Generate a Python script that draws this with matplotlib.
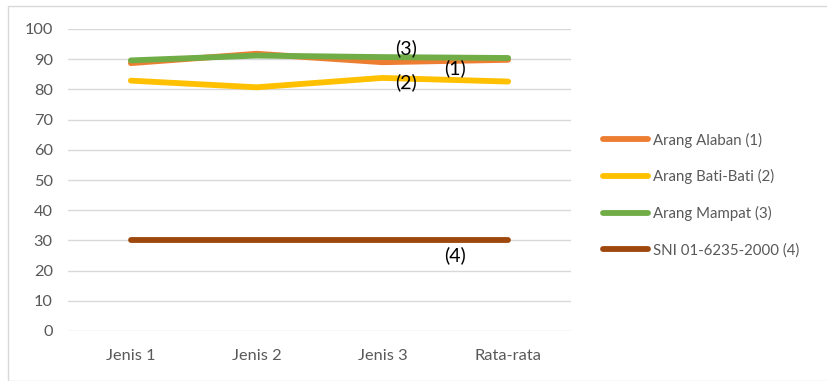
import matplotlib
matplotlib.use("Agg")
import matplotlib.pyplot as plt
from matplotlib.patches import Rectangle

categories = ["Jenis 1", "Jenis 2", "Jenis 3", "Rata-rata"]
arang_alaban = [88.7, 91.8, 89.0, 89.8]
arang_bati = [82.9, 80.7, 83.8, 82.6]
arang_mampat = [89.6, 91.2, 90.7, 90.4]
sni = [30, 30, 30, 30]
series_names = ["Arang Alaban (1)", "Arang Bati-Bati (2)", "Arang Mampat (3)", "SNI 01-6235-2000 (4)"]
colors = ["#ED7D31", "#FFC000", "#70AD47", "#9E480E"]

plt.rcParams["font.family"] = ["Lato", "DejaVu Sans"]

fig = plt.figure(figsize=(8.28, 3.81), dpi=100)
ax = fig.add_axes([68 / 828, 50 / 381, 503 / 828, 302 / 381])

x = list(range(len(categories)))
for vals, name, c in zip([arang_alaban, arang_bati, arang_mampat, sni], series_names, colors):
    ax.plot(x, vals, color=c, lw=4.2, solid_capstyle="round", solid_joinstyle="round", label=name)

ax.set_xlim(-0.5, 3.5)
ax.set_ylim(0, 100)
ax.set_yticks(range(0, 101, 10))
ax.set_xticks(x)
ax.set_xticklabels(categories)
ax.tick_params(axis="both", length=0, labelsize=11.8, colors="#595959")
ax.tick_params(axis="y", pad=11)
ax.tick_params(axis="x", pad=13)
ax.grid(axis="y", color="#D9D9D9", lw=1)
ax.set_axisbelow(True)
for s in ax.spines.values():
    s.set_visible(False)

# series markers placed near the lines
label_kw = dict(fontsize=14, ha="center", va="center", color="black")
ax.text(2.19, 93.7, "(3)", **label_kw)
ax.text(2.19, 82.3, "(2)", **label_kw)
ax.text(2.58, 87.0, "(1)", **label_kw)
ax.text(2.58, 25.0, "(4)", **label_kw)

leg = fig.legend(loc="center left", bbox_to_anchor=(590 / 828, 186 / 381), frameon=False,
                 fontsize=10.8, handlelength=3.0, handletextpad=0.3, labelspacing=1.45,
                 labelcolor="#595959")

fig.patches.append(Rectangle((8 / 828, 0), 1, 1 - 6 / 381, transform=fig.transFigure,
                             fill=False, edgecolor="#D9D9D9", lw=1))

fig.savefig("out.png", dpi=100)
